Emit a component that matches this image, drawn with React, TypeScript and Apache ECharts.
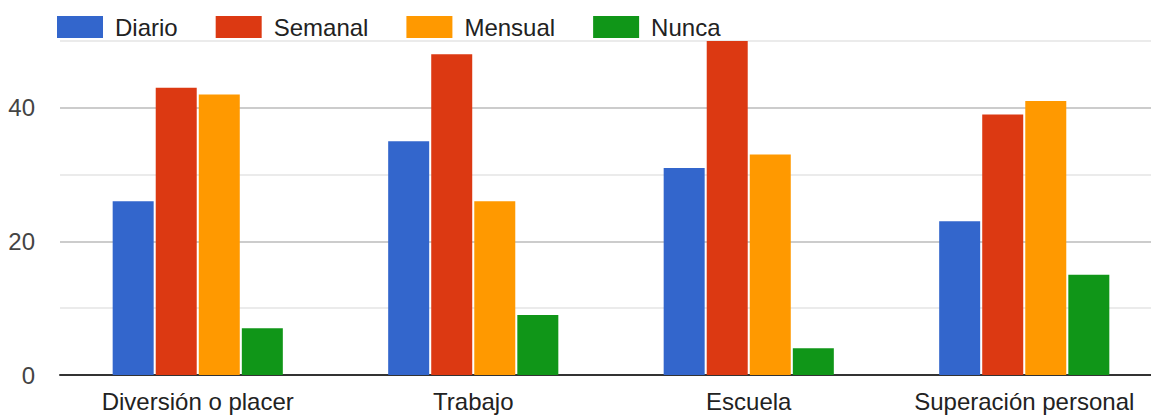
import React, { useEffect, useRef } from "react";
import * as echarts from "echarts";

const categories = ["Diversión o placer", "Trabajo", "Escuela", "Superación personal"];
const seriesNames = ["Diario", "Semanal", "Mensual", "Nunca"];
const diario = [26, 35, 31, 23];
const semanal = [43, 48, 50, 39];
const mensual = [42, 26, 33, 41];
const nunca = [7, 9, 4, 15];
const colors = ["#3366cc", "#dc3912", "#ff9900", "#109618"];

const FONT = "'Liberation Sans', Arial, sans-serif";

export default function App() {
  const ref = useRef<HTMLDivElement>(null);
  useEffect(() => {
    if (!ref.current) return;
    const chart = echarts.init(ref.current, undefined, { renderer: "svg" });
    const values = [diario, semanal, mensual, nunca];
    chart.setOption({
      animation: false,
      color: colors,
      textStyle: { fontFamily: FONT },
      legend: {
        left: 52,
        top: 10,
        itemWidth: 46,
        itemHeight: 22,
        itemGap: 38,
        icon: "rect",
        data: seriesNames,
        textStyle: { fontSize: 24, color: "#222", fontFamily: FONT, padding: [0, 0, 0, 7] },
      },
      grid: { left: 60, top: 41, right: 0, bottom: 41, containLabel: false },
      xAxis: {
        type: "category",
        data: categories,
        axisLine: { lineStyle: { color: "#333", width: 2 } },
        axisTick: { show: false },
        axisLabel: { fontSize: 24, color: "#222", margin: 14, fontFamily: FONT, interval: 0 },
      },
      yAxis: {
        type: "value",
        min: 0,
        max: 50,
        interval: 10,
        axisLine: { show: false },
        axisTick: { show: false },
        axisLabel: {
          fontSize: 24,
          color: "#444",
          margin: 25,
          fontFamily: FONT,
          formatter: (v: number) => (v % 20 === 0 ? String(v) : ""),
        },
        splitLine: { lineStyle: { color: ["#cccccc", "#ebebeb"], width: 2 } },
      },
      series: seriesNames.map((name, i) => ({
        name,
        type: "bar",
        data: values[i],
        barWidth: 41,
        barGap: "5%",
        itemStyle: { color: colors[i] },
      })),
    });
    return () => chart.dispose();
  }, []);
  return (
    <div style={{ width: 1151, height: 416, position: "absolute", left: 0, top: 0, overflow: "hidden" }}>
      <div ref={ref} style={{ width: 1162, height: 416 }} />
    </div>
  );
}
